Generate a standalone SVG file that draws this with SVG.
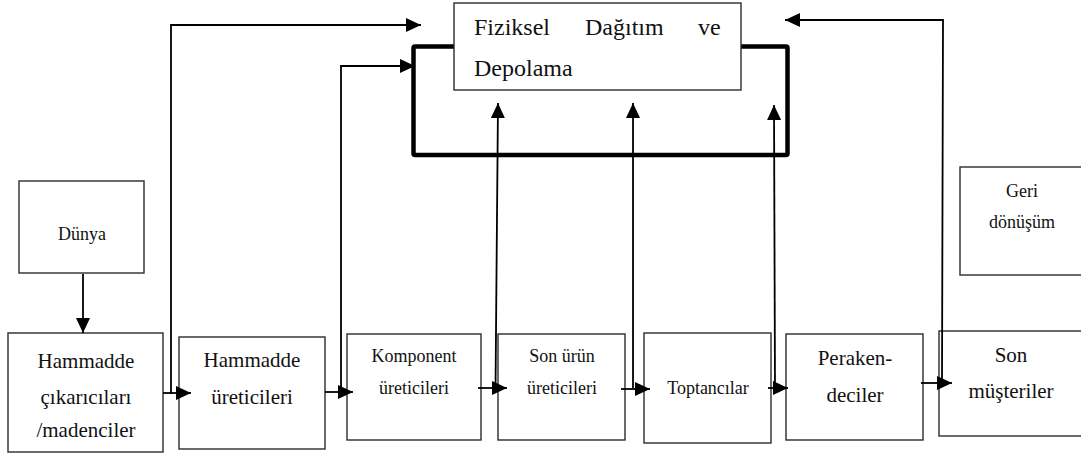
<svg xmlns="http://www.w3.org/2000/svg" width="1081" height="455" viewBox="0 0 1081 455" font-family="'Liberation Serif', Tinos, 'Times New Roman', 'DejaVu Serif', serif">
  <style>
    .box { fill: #ffffff; stroke: #2b2b2b; stroke-width: 1.4; }
    .frame { fill: none; stroke: #000000; stroke-width: 4.5; stroke-linejoin: round; }
    .conn { fill: none; stroke: #000000; stroke-width: 1.8; }
    .t { font-family: 'Liberation Serif', Tinos, 'Times New Roman', 'DejaVu Serif', serif; fill: #111111; }
    .c { text-anchor: middle; }
    .big { font-size: 24px; }
    .md { font-size: 21px; }
    .sm { font-size: 18px; }
  </style>
  <defs>
    <marker id="arrow" viewBox="0 0 15 14" refX="15" refY="7" markerWidth="15" markerHeight="14" markerUnits="userSpaceOnUse" orient="auto">
      <path d="M0,0 L15,7 L0,14 Z" fill="#000000"/>
    </marker>
  </defs>

  <!-- storage frame behind the distribution box -->
  <g id="storage-frame">
    <rect class="frame" x="413.5" y="46.5" width="374" height="108.5" rx="1.5"/>
  </g>

  <g id="fiziksel-dagitim">
    <rect class="box" x="454" y="3" width="287" height="87"/>
    <text class="t big" x="474" y="35">Fiziksel</text>
    <text class="t big" x="585" y="35">Dağıtım</text>
    <text class="t big" x="698" y="35">ve</text>
    <text class="t big" x="474" y="76">Depolama</text>
  </g>

  <g id="dunya">
    <rect class="box" x="19" y="181" width="125" height="92"/>
    <text class="t sm c" x="82" y="240">Dünya</text>
  </g>

  <g id="geri-donusum">
    <rect class="box" x="960" y="167" width="125" height="108"/>
    <text class="t sm c" x="1022" y="197">Geri</text>
    <text class="t sm c" x="1022" y="228">dönüşüm</text>
  </g>

  <g id="hammadde-cikaricilari">
    <rect class="box" x="8" y="333" width="155" height="119"/>
    <text class="t md c" x="86" y="368">Hammadde</text>
    <text class="t md c" x="86" y="404">çıkarıcıları</text>
    <text class="t md c" x="86" y="437">/madenciler</text>
  </g>

  <g id="hammadde-ureticileri">
    <rect class="box" x="179" y="337" width="146" height="112"/>
    <text class="t md c" x="252" y="367">Hammadde</text>
    <text class="t md c" x="252" y="404">üreticileri</text>
  </g>

  <g id="komponent-ureticileri">
    <rect class="box" x="347" y="334" width="134" height="106"/>
    <text class="t sm c" x="414" y="362">Komponent</text>
    <text class="t sm c" x="414" y="394">üreticileri</text>
  </g>

  <g id="son-urun-ureticileri">
    <rect class="box" x="498" y="334" width="127" height="106"/>
    <text class="t sm c" x="562" y="362">Son ürün</text>
    <text class="t sm c" x="562" y="394">üreticileri</text>
  </g>

  <g id="toptancilar">
    <rect class="box" x="644" y="333" width="127" height="110"/>
    <text class="t sm c" x="708" y="394">Toptancılar</text>
  </g>

  <g id="perakendeciler">
    <rect class="box" x="786" y="334" width="137" height="106"/>
    <text class="t md c" x="855" y="365">Peraken-</text>
    <text class="t md c" x="855" y="402">deciler</text>
  </g>

  <g id="son-musteriler">
    <rect class="box" x="939" y="331" width="146" height="105"/>
    <text class="t md c" x="1011" y="362">Son</text>
    <text class="t md c" x="1011" y="398">müşteriler</text>
  </g>

  <g id="connectors">
    <path class="conn" d="M83,274 L83,333" marker-end="url(#arrow)"/>
    <path class="conn" d="M163,393 L191,393" marker-end="url(#arrow)"/>
    <path class="conn" d="M171,394 L171,25 L421,25" marker-end="url(#arrow)"/>
    <path class="conn" d="M325,392 L353,392" marker-end="url(#arrow)"/>
    <path class="conn" d="M341,392 L341,66 L415,66" marker-end="url(#arrow)"/>
    <path class="conn" d="M478,388 L507,388" marker-end="url(#arrow)"/>
    <path class="conn" d="M495.5,390 L498,103" marker-end="url(#arrow)"/>
    <path class="conn" d="M621,389 L650,389" marker-end="url(#arrow)"/>
    <path class="conn" d="M633,388 L633,103" marker-end="url(#arrow)"/>
    <path class="conn" d="M768,388 L788,388" marker-end="url(#arrow)"/>
    <path class="conn" d="M775,388 L774,105" marker-end="url(#arrow)"/>
    <path class="conn" d="M921,383 L952,383" marker-end="url(#arrow)"/>
    <path class="conn" d="M942,383 L943,20 L785,20" marker-end="url(#arrow)"/>
  </g>
</svg>
